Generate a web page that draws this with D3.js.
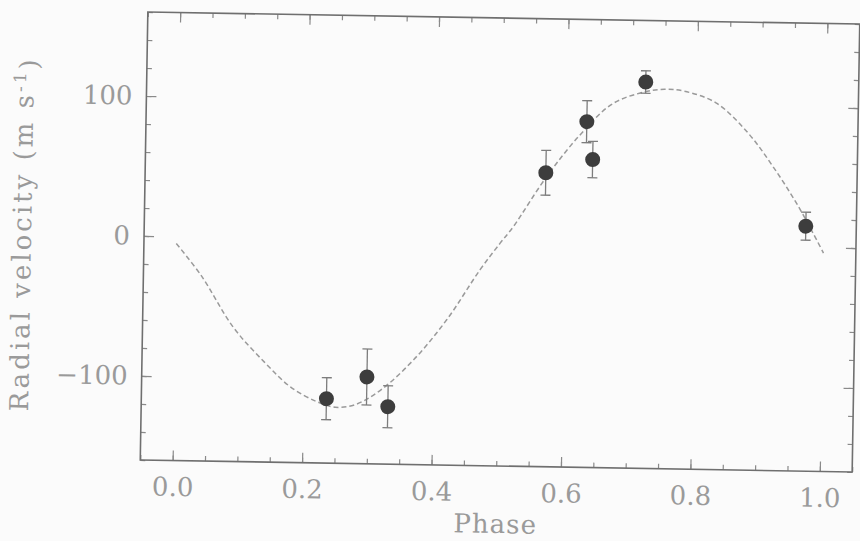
<!DOCTYPE html>
<html>
<head>
<meta charset="utf-8">
<script src="https://cdn.jsdelivr.net/npm/d3@7"></script>
<style>
  body { margin: 0; background: #fbfbfb; }
  svg { display: block; }
</style>
</head>
<body>
<div id="RVChart"></div>
<script>

// measured points
var phase = [0.236, 0.298, 0.331, 0.569, 0.631, 0.641, 0.721, 0.972];
var velocity = [-114, -98, -119, 50, 87, 60, 116, 15];
var errors = [15, 20, 15, 16, 15, 13, 8, 10];

// fitted orbit
var fitPhase = [0.0, 0.04, 0.09, 0.14, 0.18, 0.22, 0.25, 0.28, 0.32, 0.37, 0.42, 0.47, 0.50,
    0.52, 0.57, 0.62, 0.67, 0.72, 0.75, 0.78, 0.83, 0.88, 0.92, 0.96, 1.0];
var fitVelocity = [-5, -28, -64, -89, -106, -116, -120, -118, -107, -85, -56, -20, -1,
    11, 47, 77, 100, 109, 111, 110, 102, 81, 57, 29, -4];

// ticks
var xTicks = [0.0, 0.2, 0.4, 0.6, 0.8, 1.0];
var xMinor = d3.range(-0.05, 1.0501, 0.05);
var yTicks = [-100, 0, 100];
var yMinor = d3.range(-160, 161, 20);

var margin = {top: 18, right: 4, bottom: 75, left: 144},
    width = 856 - margin.left,
    height = 466 - margin.top;

var svg = d3.select("#RVChart")
    .append("svg")
    .attr("width", 860)
    .attr("height", 541);

// the scan is tilted by about one degree
var g = svg.append("g")
    .attr("transform", "rotate(0.97,500,242) translate(" + margin.left + "," + margin.top + ")");

var x = d3.scaleLinear()
    .domain([-0.05, 1.05])
    .range([0, width]);
var y = d3.scaleLinear()
    .domain([-160, 160])
    .range([height, 0]);

var ink = "#9a9a9a";
var font = "'DejaVu Serif', serif";

function styleAxis(sel) {
    sel.select(".domain").remove();
    sel.selectAll("line").attr("stroke", "#8a8a8a").attr("stroke-width", 1.2);
    sel.selectAll("text")
        .attr("fill", ink)
        .style("font-family", font)
        .style("font-size", "26px");
}

// bottom
g.append("g")
    .attr("transform", "translate(0," + height + ")")
    .call(d3.axisBottom(x).tickValues(xMinor).tickSize(-5).tickFormat(""))
    .call(styleAxis);
g.append("g")
    .attr("transform", "translate(0," + height + ")")
    .call(d3.axisBottom(x).tickValues(xTicks).tickSize(-10).tickPadding(17).tickFormat(d3.format(".1f")))
    .call(styleAxis);
// top
g.append("g")
    .call(d3.axisTop(x).tickValues(xMinor).tickSize(-5).tickFormat(""))
    .call(styleAxis);
g.append("g")
    .call(d3.axisTop(x).tickValues(xTicks).tickSize(-10).tickFormat(""))
    .call(styleAxis);
// left
g.append("g")
    .call(d3.axisLeft(y).tickValues(yMinor).tickSize(-5).tickFormat(""))
    .call(styleAxis);
g.append("g")
    .call(d3.axisLeft(y).tickValues(yTicks).tickSize(-10).tickPadding(14).tickFormat(d3.format("d")))
    .call(styleAxis);
// right
g.append("g")
    .attr("transform", "translate(" + width + ",0)")
    .call(d3.axisRight(y).tickValues(yMinor).tickSize(-5).tickFormat(""))
    .call(styleAxis);
g.append("g")
    .attr("transform", "translate(" + width + ",0)")
    .call(d3.axisRight(y).tickValues(yTicks).tickSize(-10).tickFormat(""))
    .call(styleAxis);

// frame
g.append("rect")
    .attr("width", width)
    .attr("height", height)
    .attr("fill", "none")
    .attr("stroke", "#6f6f6f")
    .attr("stroke-width", 1.6);

// axis titles
g.append("text")
    .attr("x", width / 2)
    .attr("y", height + 67)
    .attr("text-anchor", "middle")
    .attr("fill", ink)
    .style("font-family", font)
    .style("font-size", "26px")
    .style("letter-spacing", "1px")
    .text("Phase");

var yTitle = g.append("text")
    .attr("transform", "translate(" + (31 - margin.left) + "," + (height / 2) + ") rotate(-90)")
    .attr("text-anchor", "middle")
    .attr("fill", ink)
    .style("font-family", font)
    .style("font-size", "26px")
    .style("letter-spacing", "3px");
yTitle.append("tspan").text("Radial velocity (m s");
yTitle.append("tspan").attr("dy", "-0.45em").style("font-size", "17px").text("-1");
yTitle.append("tspan").attr("dy", "0.45em").text(")");

// fitted curve
var fit = fitPhase.map(function(p, i) { return [p, fitVelocity[i]]; });
g.append("path")
    .datum(fit)
    .attr("fill", "none")
    .attr("stroke", "#9a9a9a")
    .attr("stroke-width", 1.5)
    .attr("stroke-dasharray", "5,3")
    .attr("d", d3.line()
        .curve(d3.curveCatmullRom.alpha(0.5))
        .x(function(d) { return x(d[0]); })
        .y(function(d) { return y(d[1]); }));

// error bars
var pts = phase.map(function(p, i) { return {p: p, v: velocity[i], e: errors[i]}; });
var bars = g.selectAll("g.err")
    .data(pts)
    .enter()
    .append("g")
    .attr("class", "err")
    .attr("stroke", "#7d7d7d")
    .attr("stroke-width", 1.3);
bars.append("line")
    .attr("x1", function(d) { return x(d.p); })
    .attr("x2", function(d) { return x(d.p); })
    .attr("y1", function(d) { return y(d.v + d.e); })
    .attr("y2", function(d) { return y(d.v - d.e); });
bars.append("line")
    .attr("x1", function(d) { return x(d.p) - 5; })
    .attr("x2", function(d) { return x(d.p) + 5; })
    .attr("y1", function(d) { return y(d.v + d.e); })
    .attr("y2", function(d) { return y(d.v + d.e); });
bars.append("line")
    .attr("x1", function(d) { return x(d.p) - 5; })
    .attr("x2", function(d) { return x(d.p) + 5; })
    .attr("y1", function(d) { return y(d.v - d.e); })
    .attr("y2", function(d) { return y(d.v - d.e); });

// points
g.selectAll("circle.pt")
    .data(pts)
    .enter()
    .append("circle")
    .attr("class", "pt")
    .attr("cx", function(d) { return x(d.p); })
    .attr("cy", function(d) { return y(d.v); })
    .attr("r", 7.5)
    .attr("fill", "#3d3d3d");

</script>
</body>
</html>
